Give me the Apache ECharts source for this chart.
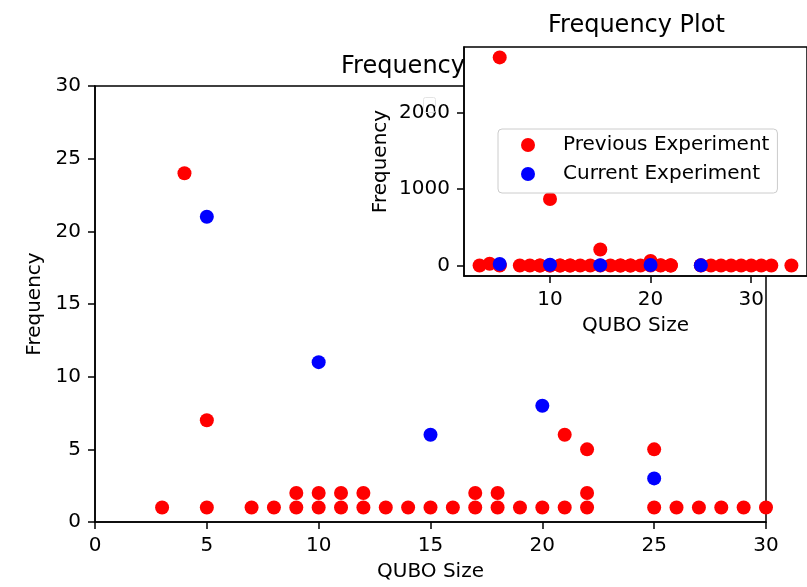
<!DOCTYPE html>
<html>
<head>
<meta charset="utf-8">
<script src="https://cdn.jsdelivr.net/npm/echarts@6/dist/echarts.min.js"></script>
<style>html,body{margin:0;padding:0;background:#fff}#c{width:807px;height:587px}</style>
</head>
<body>
<div id="c"></div>
<script>
// Previous Experiment (red)
const prevX = [3,4,5,5,5,7,8,9,9,10,10,10,11,11,12,12,13,14,15,15,16,17,17,18,18,19,20,20,21,21,22,22,22,25,25,26,27,28,29,30,31,32,34];
const prevY = [1,24,1,7,2720,1,1,1,2,1,2,870,1,2,1,2,1,1,1,210,1,1,2,1,2,1,1,60,1,6,1,2,5,1,5,1,1,1,1,1,1,1,1];
// Current Experiment (blue)
const curX = [5,10,15,20,25];
const curY = [21,11,6,8,3];
// tick labels
const mainTicks = [0,5,10,15,20,25,30];
const insetXTicks = [10,20,30];
const insetYTicks = [0,1000,2000];
const seriesNames = ['Previous Experiment','Current Experiment'];

const FONT = 'DejaVu Sans';
const pairs = (xs, ys) => xs.map((x, i) => [x, ys[i]]);
const prevData = pairs(prevX, prevY);
const curData = pairs(curX, curY);

const lineStyle = {color: '#000', width: 1.5};
const labelFmt = v => String(v);
function axisCommon(extra) {
  return Object.assign({
    type: 'value',
    splitLine: {show: false},
    axisLine: {show: true, onZero: false, lineStyle: lineStyle},
    axisTick: {show: true, length: 7, lineStyle: lineStyle},
    axisLabel: {fontFamily: FONT, fontSize: 20, color: '#000', margin: 14, formatter: labelFmt},
    nameLocation: 'middle',
    nameTextStyle: {fontFamily: FONT, fontSize: 20, color: '#000'}
  }, extra);
}

const chart = echarts.init(document.getElementById('c'), null, {renderer: 'canvas'});
chart.setOption({
  animation: false,
  backgroundColor: '#fff',
  title: [
    {text: 'Frequency Plot', left: 341, top: 55, padding: 0, z: 0,
     textStyle: {fontFamily: FONT, fontSize: 24, fontWeight: 'normal', color: '#000'}},
    {text: 'Frequency Plot', left: 548, top: 14, padding: 0, z: 6,
     textStyle: {fontFamily: FONT, fontSize: 24, fontWeight: 'normal', color: '#000'}}
  ],
  grid: [
    {left: 95, top: 86, width: 671, height: 436, show: true, borderColor: '#000', borderWidth: 1.5, z: 0},
    {left: 464, top: 47, width: 344, height: 229, show: true, backgroundColor: '#fff', borderColor: '#000', borderWidth: 1.5, z: 1}
  ],
  xAxis: [
    axisCommon({gridIndex: 0, min: mainTicks[0], max: mainTicks[mainTicks.length - 1], interval: 5,
      name: 'QUBO Size', nameGap: 40, z: 0}),
    axisCommon({gridIndex: 1, min: 1.45, max: 35.55, name: 'QUBO Size', nameGap: 40, z: 2,
      axisLabel: {fontFamily: FONT, fontSize: 20, color: '#000', margin: 14, formatter: labelFmt, customValues: insetXTicks},
      axisTick: {show: true, length: 7, lineStyle: lineStyle, customValues: insetXTicks}})
  ],
  yAxis: [
    axisCommon({gridIndex: 0, min: mainTicks[0], max: mainTicks[mainTicks.length - 1], interval: 5,
      name: 'Frequency', nameGap: 45, z: 0}),
    axisCommon({gridIndex: 1, min: -136, max: 2856, name: 'Frequency', nameGap: 73, z: 2,
      axisLabel: {fontFamily: FONT, fontSize: 20, color: '#000', margin: 14, formatter: labelFmt, customValues: insetYTicks},
      axisTick: {show: true, length: 7, lineStyle: lineStyle, customValues: insetYTicks}})
  ],
  legend: {
    data: seriesNames.map(n => ({name: n, icon: 'circle'})),
    orient: 'vertical',
    left: 498, top: 129,
    padding: [5, 8, 8, 23],
    itemWidth: 40, itemHeight: 14, itemGap: 7,
    selectedMode: false,
    borderColor: '#cccccc', borderWidth: 1, borderRadius: 4,
    backgroundColor: 'rgba(255,255,255,0.8)',
    formatter: name => '{t|' + name + '}',
    textStyle: {fontFamily: FONT, fontSize: 20, color: '#000', lineHeight: 22,
      rich: {t: {fontFamily: FONT, fontSize: 20, color: '#000', lineHeight: 22, padding: [0, 0, 0, 10]}}},
    z: 10
  },
  graphic: [
    {type: 'rect', shape: {x: 423.5, y: 97.5, width: 12, height: 15, r: 2},
     style: {fill: 'none', stroke: '#e4e4e4', lineWidth: 1}, z: 5, silent: true}
  ],
  series: [
    {type: 'scatter', name: seriesNames[0], xAxisIndex: 0, yAxisIndex: 0, data: prevData,
     symbolSize: 14, itemStyle: {color: '#ff0000', opacity: 1}, z: 2, clip: true},
    {type: 'scatter', name: seriesNames[1], xAxisIndex: 0, yAxisIndex: 0, data: curData,
     symbolSize: 14, itemStyle: {color: '#0000ff', opacity: 1}, z: 3, clip: true},
    {type: 'scatter', name: seriesNames[0], xAxisIndex: 1, yAxisIndex: 1, data: prevData,
     symbolSize: 14, itemStyle: {color: '#ff0000', opacity: 1}, z: 3, clip: true},
    {type: 'scatter', name: seriesNames[1], xAxisIndex: 1, yAxisIndex: 1, data: curData,
     symbolSize: 14, itemStyle: {color: '#0000ff', opacity: 1}, z: 4, clip: true}
  ]
});
</script>
</body>
</html>
